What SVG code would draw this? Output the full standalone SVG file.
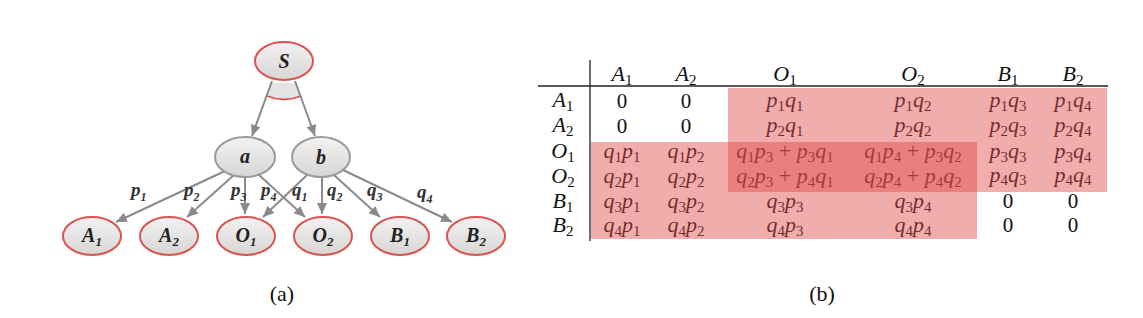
<svg xmlns="http://www.w3.org/2000/svg" width="1143" height="318" viewBox="0 0 1143 318">
<style>
.node ellipse{fill:url(#ng);stroke-width:2}
.red ellipse{stroke:#d9534f}
.gray ellipse{stroke:#9a9a9a}
.nl{font-family:"Liberation Serif",serif;font-weight:bold;font-style:italic;font-size:20px;fill:#222;text-anchor:middle}
.nl .sb{font-size:13px}
.edge{stroke:#8a8a8a;stroke-width:2;fill:none;marker-end:url(#ah)}
.el{font-family:"Liberation Serif",serif;font-weight:bold;font-style:italic;font-size:19px;fill:#333}
.el .sb{font-size:12px}
.t{font-family:"Liberation Serif",serif;font-style:italic;font-size:22px;fill:#111;text-anchor:middle}
.t .sb{font-style:normal;font-size:15px}
.t .up{font-style:normal}
.z{font-family:"Liberation Serif",serif;font-size:21px;fill:#111;text-anchor:middle}
.cap{font-family:"Liberation Serif",serif;font-size:22px;fill:#111;text-anchor:middle}
.shade{fill:#e04a4a;fill-opacity:0.46}
</style>
<defs>
<linearGradient id="ng" x1="0" y1="0" x2="0" y2="1">
<stop offset="0" stop-color="#f3f1f1"/>
<stop offset="1" stop-color="#d8d5d5"/>
</linearGradient>
<marker id="ah" markerUnits="userSpaceOnUse" markerWidth="12" markerHeight="12" viewBox="0 0 12 12" refX="11" refY="6" orient="auto">
<path d="M0,1 L11,6 L0,11 Z" fill="#8a8a8a"/>
</marker>
</defs>

<g id="connectors">
<path d="M272,83 L267,96 Q284,103 301,96 L295,83 Z" fill="#e4e2e2"/>
<path d="M267,96 Q284,103 301,96" fill="none" stroke="#d9534f" stroke-width="1.8"/>
<line class="edge" x1="272" y1="81" x2="252" y2="136"/>
<line class="edge" x1="295" y1="81" x2="315" y2="136"/>
<line class="edge" x1="225" y1="171" x2="116" y2="222"/>
<line class="edge" x1="234" y1="175" x2="187" y2="217"/>
<line class="edge" x1="245" y1="177" x2="245" y2="214"/>
<line class="edge" x1="259" y1="175" x2="305" y2="217"/>
<line class="edge" x1="307" y1="175" x2="263" y2="217"/>
<line class="edge" x1="322" y1="177" x2="322" y2="214"/>
<line class="edge" x1="334" y1="175" x2="380" y2="217"/>
<line class="edge" x1="343" y1="170" x2="452" y2="222"/>
<text class="el" x="131" y="196">p<tspan class="sb" dy="5">1</tspan></text>
<text class="el" x="184" y="196">p<tspan class="sb" dy="5">2</tspan></text>
<text class="el" x="231" y="196">p<tspan class="sb" dy="5">3</tspan></text>
<text class="el" x="261" y="196">p<tspan class="sb" dy="5">4</tspan></text>
<text class="el" x="292" y="196">q<tspan class="sb" dy="5">1</tspan></text>
<text class="el" x="327" y="196">q<tspan class="sb" dy="5">2</tspan></text>
<text class="el" x="367" y="196">q<tspan class="sb" dy="5">3</tspan></text>
<text class="el" x="417" y="198">q<tspan class="sb" dy="5">4</tspan></text>
</g>

<g id="S" class="node red"><ellipse cx="284" cy="61" rx="29" ry="19"/><text class="nl" x="284" y="68">S</text></g>
<g id="a" class="node gray"><ellipse cx="245" cy="157" rx="30" ry="20"/><text class="nl" x="245" y="163">a</text></g>
<g id="b" class="node gray"><ellipse cx="321" cy="157" rx="29" ry="20"/><text class="nl" x="321" y="164">b</text></g>
<g id="A1" class="node red"><ellipse cx="92" cy="236" rx="29" ry="19"/><text class="nl" x="92" y="242">A<tspan class="sb" dy="4">1</tspan></text></g>
<g id="A2" class="node red"><ellipse cx="169" cy="236" rx="29" ry="19"/><text class="nl" x="169" y="242">A<tspan class="sb" dy="4">2</tspan></text></g>
<g id="O1" class="node red"><ellipse cx="246" cy="236" rx="29" ry="19"/><text class="nl" x="246" y="242">O<tspan class="sb" dy="4">1</tspan></text></g>
<g id="O2" class="node red"><ellipse cx="323" cy="236" rx="29" ry="19"/><text class="nl" x="323" y="242">O<tspan class="sb" dy="4">2</tspan></text></g>
<g id="B1" class="node red"><ellipse cx="400" cy="236" rx="29" ry="19"/><text class="nl" x="400" y="242">B<tspan class="sb" dy="4">1</tspan></text></g>
<g id="B2" class="node red"><ellipse cx="476" cy="236" rx="29" ry="19"/><text class="nl" x="476" y="242">B<tspan class="sb" dy="4">2</tspan></text></g>

<text class="cap" x="282" y="301">(a)</text>

<g id="table">
<line x1="538" y1="86" x2="1108" y2="86" stroke="#222" stroke-width="1.3"/>
<line x1="590" y1="60" x2="590" y2="241" stroke="#222" stroke-width="1.3"/>
<!-- header -->
<text class="t" x="622" y="81">A<tspan class="sb" dy="4">1</tspan></text>
<text class="t" x="686" y="81">A<tspan class="sb" dy="4">2</tspan></text>
<text class="t" x="785" y="81">O<tspan class="sb" dy="4">1</tspan></text>
<text class="t" x="913" y="81">O<tspan class="sb" dy="4">2</tspan></text>
<text class="t" x="1008" y="81">B<tspan class="sb" dy="4">1</tspan></text>
<text class="t" x="1073" y="81">B<tspan class="sb" dy="4">2</tspan></text>
<!-- row labels -->
<text class="t" x="563" y="107">A<tspan class="sb" dy="4">1</tspan></text>
<text class="t" x="563" y="132">A<tspan class="sb" dy="4">2</tspan></text>
<text class="t" x="563" y="158">O<tspan class="sb" dy="4">1</tspan></text>
<text class="t" x="563" y="183">O<tspan class="sb" dy="4">2</tspan></text>
<text class="t" x="563" y="208">B<tspan class="sb" dy="4">1</tspan></text>
<text class="t" x="563" y="232">B<tspan class="sb" dy="4">2</tspan></text>
<!-- row A1 -->
<text class="z" x="622" y="108">0</text>
<text class="z" x="686" y="108">0</text>
<text class="t" x="785" y="107">p<tspan class="sb" dy="4">1</tspan><tspan dy="-4">q</tspan><tspan class="sb" dy="4">1</tspan></text>
<text class="t" x="913" y="107">p<tspan class="sb" dy="4">1</tspan><tspan dy="-4">q</tspan><tspan class="sb" dy="4">2</tspan></text>
<text class="t" x="1008" y="107">p<tspan class="sb" dy="4">1</tspan><tspan dy="-4">q</tspan><tspan class="sb" dy="4">3</tspan></text>
<text class="t" x="1073" y="107">p<tspan class="sb" dy="4">1</tspan><tspan dy="-4">q</tspan><tspan class="sb" dy="4">4</tspan></text>
<!-- row A2 -->
<text class="z" x="622" y="133">0</text>
<text class="z" x="686" y="133">0</text>
<text class="t" x="785" y="132">p<tspan class="sb" dy="4">2</tspan><tspan dy="-4">q</tspan><tspan class="sb" dy="4">1</tspan></text>
<text class="t" x="913" y="132">p<tspan class="sb" dy="4">2</tspan><tspan dy="-4">q</tspan><tspan class="sb" dy="4">2</tspan></text>
<text class="t" x="1008" y="132">p<tspan class="sb" dy="4">2</tspan><tspan dy="-4">q</tspan><tspan class="sb" dy="4">3</tspan></text>
<text class="t" x="1073" y="132">p<tspan class="sb" dy="4">2</tspan><tspan dy="-4">q</tspan><tspan class="sb" dy="4">4</tspan></text>
<!-- row O1 -->
<text class="t" x="622" y="158">q<tspan class="sb" dy="4">1</tspan><tspan dy="-4">p</tspan><tspan class="sb" dy="4">1</tspan></text>
<text class="t" x="686" y="158">q<tspan class="sb" dy="4">1</tspan><tspan dy="-4">p</tspan><tspan class="sb" dy="4">2</tspan></text>
<text class="t" x="785" y="158">q<tspan class="sb" dy="4">1</tspan><tspan dy="-4">p</tspan><tspan class="sb" dy="4">3</tspan><tspan class="up" dy="-4"> + </tspan>p<tspan class="sb" dy="4">3</tspan><tspan dy="-4">q</tspan><tspan class="sb" dy="4">1</tspan></text>
<text class="t" x="913" y="158">q<tspan class="sb" dy="4">1</tspan><tspan dy="-4">p</tspan><tspan class="sb" dy="4">4</tspan><tspan class="up" dy="-4"> + </tspan>p<tspan class="sb" dy="4">3</tspan><tspan dy="-4">q</tspan><tspan class="sb" dy="4">2</tspan></text>
<text class="t" x="1008" y="158">p<tspan class="sb" dy="4">3</tspan><tspan dy="-4">q</tspan><tspan class="sb" dy="4">3</tspan></text>
<text class="t" x="1073" y="158">p<tspan class="sb" dy="4">3</tspan><tspan dy="-4">q</tspan><tspan class="sb" dy="4">4</tspan></text>
<!-- row O2 -->
<text class="t" x="622" y="183">q<tspan class="sb" dy="4">2</tspan><tspan dy="-4">p</tspan><tspan class="sb" dy="4">1</tspan></text>
<text class="t" x="686" y="183">q<tspan class="sb" dy="4">2</tspan><tspan dy="-4">p</tspan><tspan class="sb" dy="4">2</tspan></text>
<text class="t" x="785" y="183">q<tspan class="sb" dy="4">2</tspan><tspan dy="-4">p</tspan><tspan class="sb" dy="4">3</tspan><tspan class="up" dy="-4"> + </tspan>p<tspan class="sb" dy="4">4</tspan><tspan dy="-4">q</tspan><tspan class="sb" dy="4">1</tspan></text>
<text class="t" x="913" y="183">q<tspan class="sb" dy="4">2</tspan><tspan dy="-4">p</tspan><tspan class="sb" dy="4">4</tspan><tspan class="up" dy="-4"> + </tspan>p<tspan class="sb" dy="4">4</tspan><tspan dy="-4">q</tspan><tspan class="sb" dy="4">2</tspan></text>
<text class="t" x="1008" y="182">p<tspan class="sb" dy="3">4</tspan><tspan dy="-3">q</tspan><tspan class="sb" dy="3">3</tspan></text>
<text class="t" x="1073" y="182">p<tspan class="sb" dy="3">4</tspan><tspan dy="-3">q</tspan><tspan class="sb" dy="3">4</tspan></text>
<!-- row B1 -->
<text class="t" x="622" y="208">q<tspan class="sb" dy="4">3</tspan><tspan dy="-4">p</tspan><tspan class="sb" dy="4">1</tspan></text>
<text class="t" x="686" y="208">q<tspan class="sb" dy="4">3</tspan><tspan dy="-4">p</tspan><tspan class="sb" dy="4">2</tspan></text>
<text class="t" x="785" y="208">q<tspan class="sb" dy="4">3</tspan><tspan dy="-4">p</tspan><tspan class="sb" dy="4">3</tspan></text>
<text class="t" x="913" y="208">q<tspan class="sb" dy="4">3</tspan><tspan dy="-4">p</tspan><tspan class="sb" dy="4">4</tspan></text>
<text class="z" x="1008" y="208">0</text>
<text class="z" x="1073" y="208">0</text>
<!-- row B2 -->
<text class="t" x="622" y="232">q<tspan class="sb" dy="4">4</tspan><tspan dy="-4">p</tspan><tspan class="sb" dy="4">1</tspan></text>
<text class="t" x="686" y="232">q<tspan class="sb" dy="4">4</tspan><tspan dy="-4">p</tspan><tspan class="sb" dy="4">2</tspan></text>
<text class="t" x="785" y="232">q<tspan class="sb" dy="4">4</tspan><tspan dy="-4">p</tspan><tspan class="sb" dy="4">3</tspan></text>
<text class="t" x="913" y="232">q<tspan class="sb" dy="4">4</tspan><tspan dy="-4">p</tspan><tspan class="sb" dy="4">4</tspan></text>
<text class="z" x="1008" y="232">0</text>
<text class="z" x="1073" y="232">0</text>
<!-- shading -->
<rect class="shade" x="728" y="88" width="379" height="104"/>
<rect class="shade" x="591" y="142" width="386" height="97"/>
</g>

<text class="cap" x="822" y="301">(b)</text>
</svg>
